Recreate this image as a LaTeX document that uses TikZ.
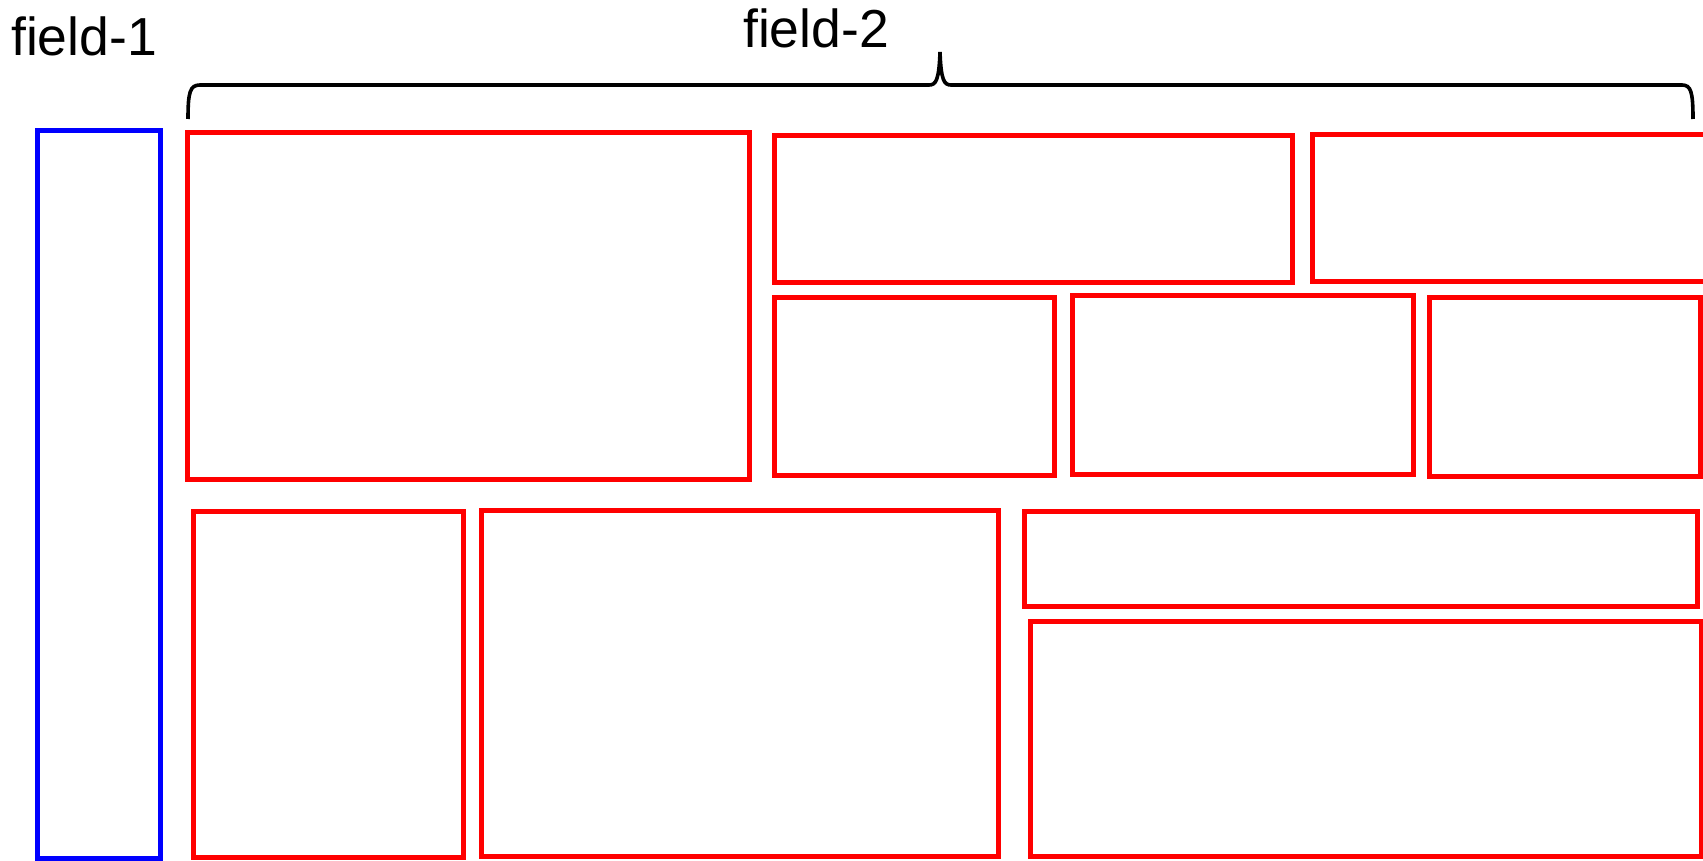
\documentclass[tikz,border=0pt]{standalone}
\usepackage{fontspec}
\setmainfont{Liberation Sans}
\begin{document}
\begin{tikzpicture}[x=1pt,y=-1pt,
  redbox/.style={draw={rgb,255:red,255;green,0;blue,0},line width=5pt},
  bluebox/.style={draw={rgb,255:red,0;green,0;blue,255},line width=5pt},
  bracepath/.style={draw=black,line width=3.6pt},
  lbl/.style={anchor=base west,inner sep=0pt,font=\fontsize{53.5}{64}\selectfont}]
\useasboundingbox (0,0) rectangle (1703,861);
% labels
\node[lbl] (f1) at (11,56) {field-1};
\node[lbl] (f2) at (743,47.5) {field-2};
% brace
\draw[bracepath] (188,119) .. controls (188,92) and (190,85) .. (200,85)
  -- (929,85) .. controls (936,85) and (939,80) .. (940,52)
  .. controls (941,80) and (944,85) .. (951,85)
  -- (1682,85) .. controls (1691,85) and (1693,92) .. (1693,119);
% field-1
\draw[bluebox] (37.5,131) rectangle (160.5,858.5);
% field-2 boxes
\draw[redbox] (187,132.5) rectangle (749,479);
\draw[redbox] (774,135.5) rectangle (1292.5,282.5);
\draw[redbox] (1312.5,135) rectangle (1712,281.5);
\draw[redbox] (774,297) rectangle (1054.8,475.8);
\draw[redbox] (1072.5,295) rectangle (1413.5,474);
\draw[redbox] (1429,297) rectangle (1700,476);
\draw[redbox] (193,511.5) rectangle (463.5,857.5);
\draw[redbox] (481,510.5) rectangle (998.5,856.5);
\draw[redbox] (1024.5,511.5) rectangle (1697,606.5);
\draw[redbox] (1030,621.5) rectangle (1701,856.5);
\end{tikzpicture}
\end{document}
